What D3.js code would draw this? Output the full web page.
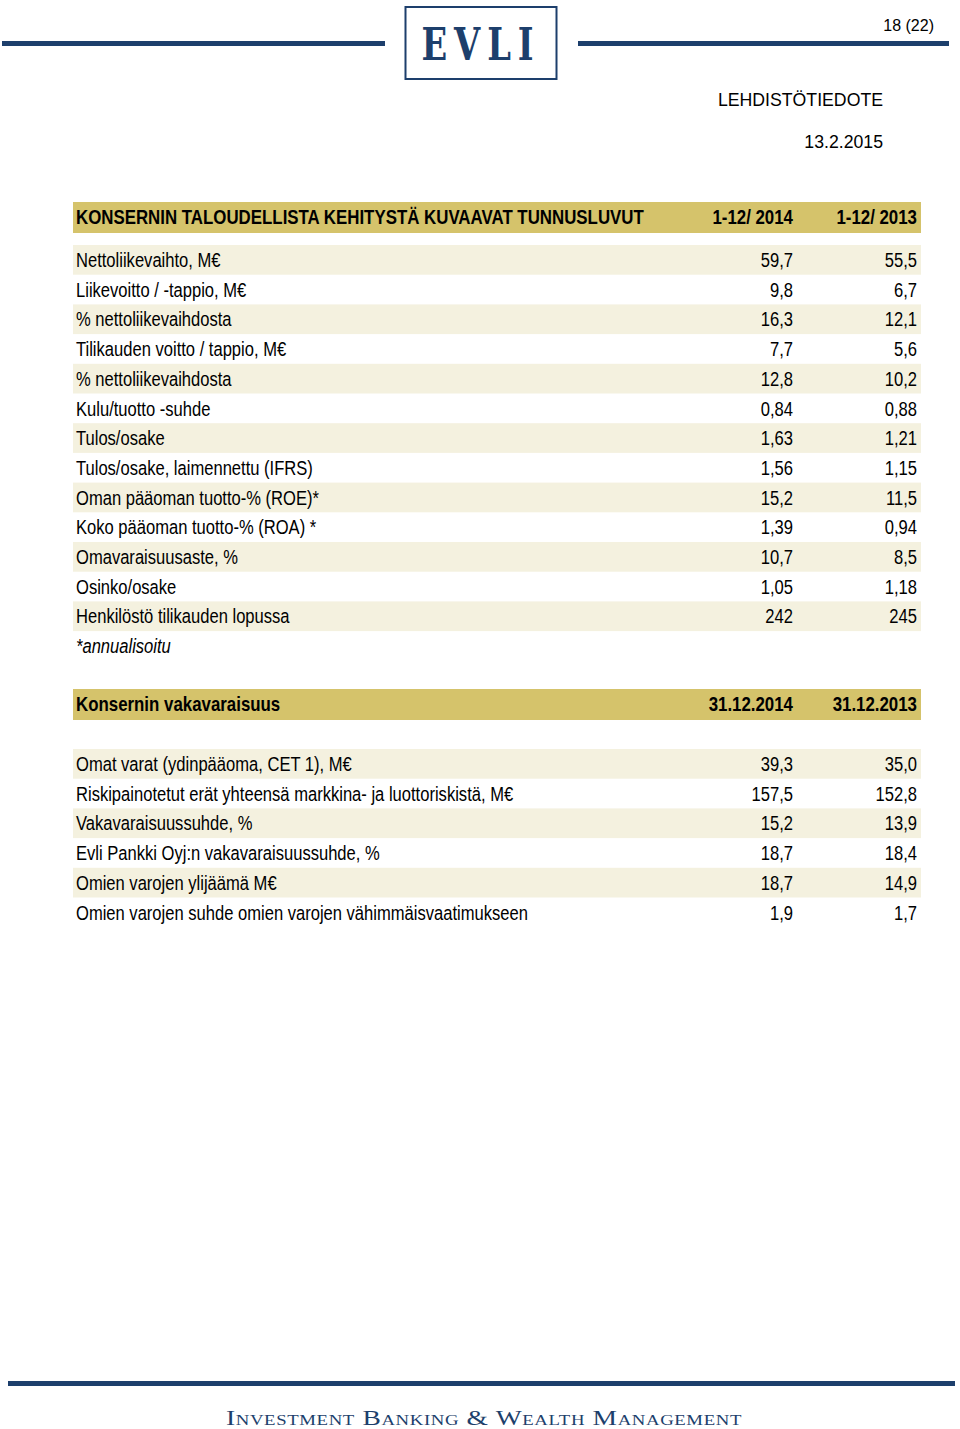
<!DOCTYPE html>
<meta charset="utf-8">
<style>
body { margin: 0; background: #fff; }
text { font-family: "Liberation Sans", Arial, sans-serif; }
</style>
<svg width="960" height="1429"></svg>
<script src="https://d3js.org/d3.v7.min.js"></script>
<script>

var keyLabels = ["Nettoliikevaihto, M€", "Liikevoitto / -tappio, M€", "% nettoliikevaihdosta",
  "Tilikauden voitto / tappio, M€", "% nettoliikevaihdosta", "Kulu/tuotto -suhde", "Tulos/osake",
  "Tulos/osake, laimennettu (IFRS)", "Oman pääoman tuotto-% (ROE)*", "Koko pääoman tuotto-% (ROA) *",
  "Omavaraisuusaste, %", "Osinko/osake", "Henkilöstö tilikauden lopussa"];
var key2014 = ["59,7", "9,8", "16,3", "7,7", "12,8", "0,84", "1,63", "1,56", "15,2", "1,39", "10,7", "1,05", "242"];
var key2013 = ["55,5", "6,7", "12,1", "5,6", "10,2", "0,88", "1,21", "1,15", "11,5", "0,94", "8,5", "1,18", "245"];
var keyHeads = ["KONSERNIN TALOUDELLISTA KEHITYSTÄ KUVAAVAT TUNNUSLUVUT", "1-12/ 2014", "1-12/ 2013"];

var capLabels = ["Omat varat (ydinpääoma, CET 1), M€", "Riskipainotetut erät yhteensä markkina- ja luottoriskistä, M€",
  "Vakavaraisuussuhde, %", "Evli Pankki Oyj:n vakavaraisuussuhde, %", "Omien varojen ylijäämä M€",
  "Omien varojen suhde omien varojen vähimmäisvaatimukseen"];
var cap2014 = ["39,3", "157,5", "15,2", "18,7", "18,7", "1,9"];
var cap2013 = ["35,0", "152,8", "13,9", "18,4", "14,9", "1,7"];
var capHeads = ["Konsernin vakavaraisuus", "31.12.2014", "31.12.2013"];

var navy = "#1d3f6c", gold = "#d5c36b", cream = "#f4f1df";
var squeeze = 0.85, headSqueeze = 0.865;

var svg = d3.select("svg");

// header
svg.append("rect").attr("x", 2).attr("y", 41).attr("width", 383).attr("height", 5).attr("fill", navy);
svg.append("rect").attr("x", 578).attr("y", 41).attr("width", 371).attr("height", 5).attr("fill", navy);
svg.append("rect").attr("x", 405.5).attr("y", 7).attr("width", 151).attr("height", 72)
    .attr("fill", "#fff").attr("stroke", navy).attr("stroke-width", 2);
svg.append("text").attr("x", 481).attr("y", 60).attr("text-anchor", "middle")
    .style("font-family", "'DejaVu Serif', 'Liberation Serif', serif").style("font-weight", "bold")
    .style("font-size", "44px").style("letter-spacing", "9px").attr("fill", navy)
    .attr("textLength", 119).attr("lengthAdjust", "spacingAndGlyphs")
    .text("EVLI");
svg.append("text").attr("x", 934).attr("y", 31).attr("text-anchor", "end")
    .style("font-size", "16px").text("18 (22)");
svg.append("text").attr("x", 883).attr("y", 106).attr("text-anchor", "end")
    .style("font-size", "17.7px").text("LEHDISTÖTIEDOTE");
svg.append("text").attr("x", 883).attr("y", 148).attr("text-anchor", "end")
    .style("font-size", "17.7px").text("13.2.2015");

var cols = ["label", "a", "b"];
var colX = d3.scaleOrdinal().domain(cols).range([76, 793, 917]);

// narrow text: the source font is condensed, so squeeze horizontally
function narrow(sel, x, y) {
  return sel.attr("transform", "translate(" + x + "," + y + ") scale(" + squeeze + ",1)");
}

function table(top, heads, labels, a, b, bodyTop) {
  var g = svg.append("g");
  g.append("rect").attr("x", 73).attr("y", top).attr("width", 848).attr("height", 31).attr("fill", gold);
  g.selectAll("text.head").data(heads).join("text").attr("class", "head")
      .attr("transform", function(d, i) {
        return "translate(" + colX(cols[i]) + "," + (top + 22) + ") scale(" + headSqueeze + ",1)";
      })
      .attr("text-anchor", function(d, i) { return i ? "end" : "start"; })
      .style("font-size", "19.5px").style("font-weight", "bold").text(function(d) { return d; });

  var y = d3.scaleBand().domain(d3.range(labels.length)).range([bodyTop, bodyTop + 29.7 * labels.length]);
  var rows = g.selectAll("g.row").data(labels).join("g").attr("class", "row")
      .attr("transform", function(d, i) { return "translate(0," + y(i) + ")"; });
  rows.filter(function(d, i) { return i % 2 === 0; }).append("rect")
      .attr("x", 73).attr("width", 848).attr("height", y.bandwidth()).attr("fill", cream);
  narrow(rows.append("text"), colX("label"), 22).style("font-size", "19.5px")
      .text(function(d) { return d; });
  narrow(rows.append("text"), colX("a"), 22).attr("text-anchor", "end").style("font-size", "19.5px")
      .text(function(d, i) { return a[i]; });
  narrow(rows.append("text"), colX("b"), 22).attr("text-anchor", "end").style("font-size", "19.5px")
      .text(function(d, i) { return b[i]; });
  return y;
}

var y1 = table(202, keyHeads, keyLabels, key2014, key2013, 245);
narrow(svg.append("text"), 76, y1.range()[1] + 22).style("font-size", "19.5px")
    .style("font-style", "italic").text("*annualisoitu");

table(689, capHeads, capLabels, cap2014, cap2013, 749);

// footer
svg.append("rect").attr("x", 8).attr("y", 1381).attr("width", 947).attr("height", 5).attr("fill", navy);
svg.append("text").attr("x", 484).attr("y", 1425).attr("text-anchor", "middle")
    .style("font-family", "'Liberation Serif', 'DejaVu Serif', serif").style("font-variant", "small-caps")
    .style("font-size", "22px").style("letter-spacing", "0.5px").attr("fill", navy)
    .attr("textLength", 516).attr("lengthAdjust", "spacingAndGlyphs")
    .text("Investment Banking & Wealth Management");

</script>
